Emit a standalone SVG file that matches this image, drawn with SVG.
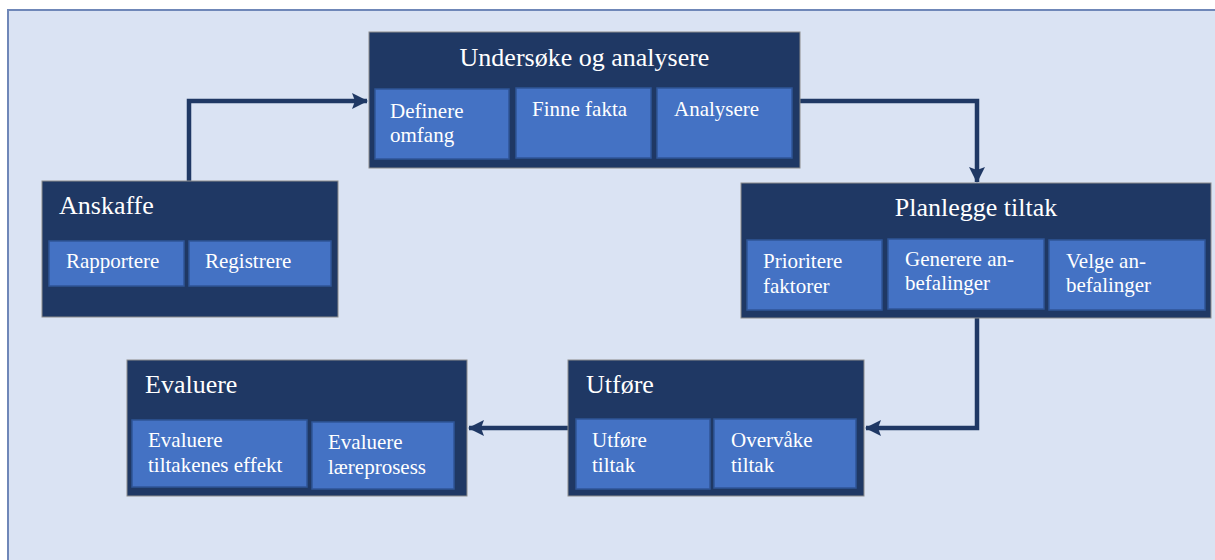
<svg xmlns="http://www.w3.org/2000/svg" width="1215" height="560" viewBox="0 0 1215 560">
<defs>
<style>
.frame{fill:#dae3f3;stroke:#6f87b8;stroke-width:2}
.main{fill:#1f3864;stroke:#8c8c8c;stroke-width:1}
.sub{fill:#4472c4;stroke:#2f5597;stroke-width:1.5}
.t{font-family:"Liberation Serif","Times New Roman",serif;fill:#ffffff}
.title{font-size:26px}
.st{font-size:21px}
.conn{fill:none;stroke:#1f3864;stroke-width:4.5}
</style>
<marker id="arrow" markerUnits="userSpaceOnUse" markerWidth="16" markerHeight="16" viewBox="0 0 16 16" refX="15" refY="8" orient="auto">
<path d="M0,0 L16,8 L0,16 L3,8 Z" fill="#1f3864"/>
</marker>
</defs>
<rect x="0" y="0" width="1215" height="560" fill="#ffffff"/>
<rect class="frame" x="8" y="10" width="1220" height="570"/>

<g id="connectors">
<path class="conn" d="M189,181 V101 H367" marker-end="url(#arrow)"/>
<path class="conn" d="M800,101 H977 V182" marker-end="url(#arrow)"/>
<path class="conn" d="M977,318 V428 H866" marker-end="url(#arrow)"/>
<path class="conn" d="M568,428 H469" marker-end="url(#arrow)"/>
</g>

<g id="undersoke">
<rect class="main" x="369" y="32" width="431" height="136"/>
<text class="t title" x="584.5" y="66" text-anchor="middle">Undersøke og analysere</text>
<rect class="sub" x="375" y="89" width="134" height="70"/>
<text class="t st" x="390" y="118">Definere</text>
<text class="t st" x="390" y="142">omfang</text>
<rect class="sub" x="516" y="88" width="135" height="70"/>
<text class="t st" x="532" y="116">Finne fakta</text>
<rect class="sub" x="657" y="88" width="135" height="70"/>
<text class="t st" x="674" y="116">Analysere</text>
</g>

<g id="planlegge">
<rect class="main" x="741" y="183" width="470" height="135"/>
<text class="t title" x="976" y="216" text-anchor="middle">Planlegge tiltak</text>
<rect class="sub" x="747" y="240" width="135" height="70"/>
<text class="t st" x="763" y="268">Prioritere</text>
<text class="t st" x="763" y="293">faktorer</text>
<rect class="sub" x="888" y="239" width="156" height="70"/>
<text class="t st" x="905" y="266">Generere an-</text>
<text class="t st" x="905" y="290">befalinger</text>
<rect class="sub" x="1049" y="240" width="156" height="70"/>
<text class="t st" x="1066" y="268">Velge an-</text>
<text class="t st" x="1066" y="292">befalinger</text>
</g>

<g id="anskaffe">
<rect class="main" x="42" y="181" width="296" height="136"/>
<text class="t title" x="59" y="214">Anskaffe</text>
<rect class="sub" x="49" y="241" width="135" height="45"/>
<text class="t st" x="66" y="268">Rapportere</text>
<rect class="sub" x="189" y="241" width="142" height="45"/>
<text class="t st" x="205" y="268">Registrere</text>
</g>

<g id="utfore">
<rect class="main" x="568" y="360" width="296" height="136"/>
<text class="t title" x="586" y="393">Utføre</text>
<rect class="sub" x="576" y="419" width="134" height="70"/>
<text class="t st" x="592" y="447">Utføre</text>
<text class="t st" x="592" y="472">tiltak</text>
<rect class="sub" x="714" y="419" width="142" height="69"/>
<text class="t st" x="731" y="447">Overvåke</text>
<text class="t st" x="731" y="472">tiltak</text>
</g>

<g id="evaluere">
<rect class="main" x="127" y="360" width="340" height="136"/>
<text class="t title" x="145" y="393">Evaluere</text>
<rect class="sub" x="132" y="420" width="175" height="67"/>
<text class="t st" x="148" y="447">Evaluere</text>
<text class="t st" x="148" y="472">tiltakenes effekt</text>
<rect class="sub" x="312" y="422" width="142" height="67"/>
<text class="t st" x="328" y="449">Evaluere</text>
<text class="t st" x="328" y="474">læreprosess</text>
</g>
</svg>
